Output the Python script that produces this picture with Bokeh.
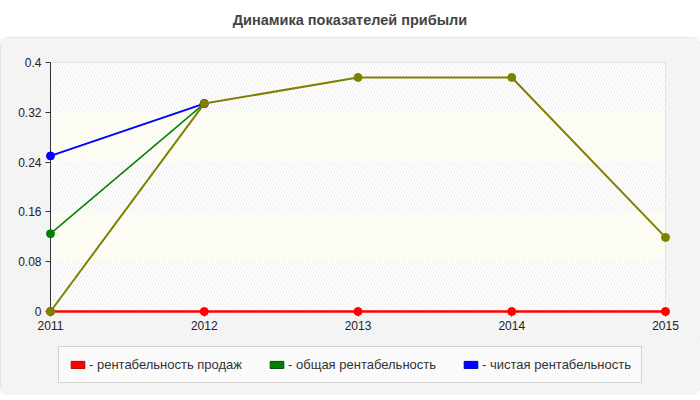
from bokeh.plotting import figure
from bokeh.models import (Range1d, FixedTicker, PrintfTickFormatter, BoxAnnotation,
                          Legend, LegendItem, Div)
from bokeh.layouts import column
from bokeh.embed import file_html
from bokeh.resources import INLINE

# ---- data ----
title_text = "Динамика показателей прибыли"
years = [2011, 2012, 2013, 2014, 2015]
sales_profitability = [0, 0, 0, 0, 0]
total_years = [2011, 2012]
total_profitability = [0.125, 0.334]
net_years = [2011, 2012]
net_profitability = [0.25, 0.334]
extra_profitability = [0, 0.334, 0.376, 0.376, 0.119]
y_ticks = [0, 0.08, 0.16, 0.24, 0.32, 0.4]
legend_labels = ["- рентабельность продаж", "- общая рентабельность", "- чистая рентабельность"]

FONT = "Liberation Sans"
PANEL = "#f4f4f4"

title = Div(text=title_text, width=700, height=37, margin=0,
            styles={"text-align": "center", "font-family": "'Liberation Sans', Arial, sans-serif",
                    "font-weight": "bold", "font-size": "14.5px", "color": "#444444",
                    "line-height": "40px", "width": "700px"})

p = figure(frame_width=615, frame_height=249, margin=0,
           x_range=Range1d(years[0], years[-1]), y_range=Range1d(y_ticks[0], y_ticks[-1]),
           output_backend="svg", toolbar_location=None,
           min_border_left=50, min_border_right=35, min_border_top=25, min_border_bottom=26,
           background_fill_color="white", border_fill_color=PANEL,
           outline_line_color="#dddddd")

# bands
for i in range(len(y_ticks) - 1):
    if i % 2 == 0:
        b = BoxAnnotation(bottom=y_ticks[i], top=y_ticks[i + 1], level="underlay",
                          fill_color="white", fill_alpha=1, line_alpha=0,
                          hatch_pattern="/", hatch_color="#ececec", hatch_scale=6, hatch_weight=1)
    else:
        b = BoxAnnotation(bottom=y_ticks[i], top=y_ticks[i + 1], level="underlay",
                          fill_color="#fcfcf5", fill_alpha=1, line_alpha=0)
    p.add_layout(b)

# grids
p.xgrid.ticker = FixedTicker(ticks=years)
p.ygrid.ticker = FixedTicker(ticks=y_ticks)
for g in (p.xgrid, p.ygrid):
    g.grid_line_color = "#dcdcdc"
    g.grid_line_dash = "4 4"
    g.grid_line_width = 1
    g.level = "underlay"

# axes
p.xaxis.ticker = FixedTicker(ticks=years)
p.yaxis.ticker = FixedTicker(ticks=y_ticks)
p.yaxis.formatter = PrintfTickFormatter(format="%g")
for ax in (p.xaxis, p.yaxis):
    ax.axis_line_color = "#333333"
    ax.major_tick_line_color = "#333333"
    ax.major_tick_out = 5
    ax.major_tick_in = 0
    ax.minor_tick_line_color = None
    ax.major_label_text_font = FONT
    ax.major_label_text_font_size = "12px"
    ax.major_label_text_color = "#222222"
    ax.major_label_standoff = 4

# data
p.line(years, sales_profitability, line_color="#ff0000", line_width=2.5, level="overlay")
p.scatter(years, sales_profitability, marker="circle", size=8, fill_color="#ff0000",
          line_color="#ff0000", level="overlay")
p.line(total_years, total_profitability, line_color="#008000", line_width=1.5, level="overlay")
p.scatter(total_years, total_profitability, marker="circle", size=8, fill_color="#008000",
          line_color="#008000", level="overlay")
p.line(net_years, net_profitability, line_color="#0000ff", line_width=2, level="overlay")
p.scatter(net_years, net_profitability, marker="circle", size=8, fill_color="#0000ff",
          line_color="#0000ff", level="overlay")
p.line(years, extra_profitability, line_color="#808000", line_width=2, level="overlay")
p.scatter(years, extra_profitability, marker="circle", size=8, fill_color="#808000",
          line_color="#808000", level="overlay")

# ---- legend strip (separate small figure inside the same panel) ----
lf = figure(width=700, height=58, margin=0, output_backend="svg", toolbar_location=None,
            x_range=Range1d(0, 1), y_range=Range1d(0, 1),
            x_axis_type=None, y_axis_type=None, min_border=0,
            background_fill_color=PANEL, border_fill_color=PANEL, outline_line_color=None)
lf.grid.visible = False

# swatch renderers: one hidden off-range box each, used only for the legend glyph
swatch_colors = [("#ff0000", "#b00000"), ("#008000", "#005000"), ("#0000ff", "#0000b0")]
items = []
for lbl, (fc, lc) in zip(legend_labels, swatch_colors):
    r = lf.quad(left=[-3], right=[-2], top=[-2], bottom=[-3], fill_color=fc, line_color=lc)
    items.append(LegendItem(label=lbl, renderers=[r]))

legend = Legend(items=items, orientation="horizontal", location=(8, 12),
                label_text_font=FONT, label_text_font_size="13px", label_text_color="#333333",
                glyph_width=17, glyph_height=9, label_standoff=3, spacing=26,
                padding=10, margin=0,
                border_line_color="#aaaaaa", border_line_width=1,
                background_fill_color="#fafafa", background_fill_alpha=1)
lf.add_layout(legend)

panel = column(p, lf, spacing=0, margin=0,
               styles={"border-radius": "8px", "overflow": "hidden", "background": PANEL,
                       "outline": "1px solid #e2e2e2", "outline-offset": "-1px"})
layout = column(title, panel, spacing=0, margin=0)
open("out.html", "w").write(file_html(layout, INLINE))
